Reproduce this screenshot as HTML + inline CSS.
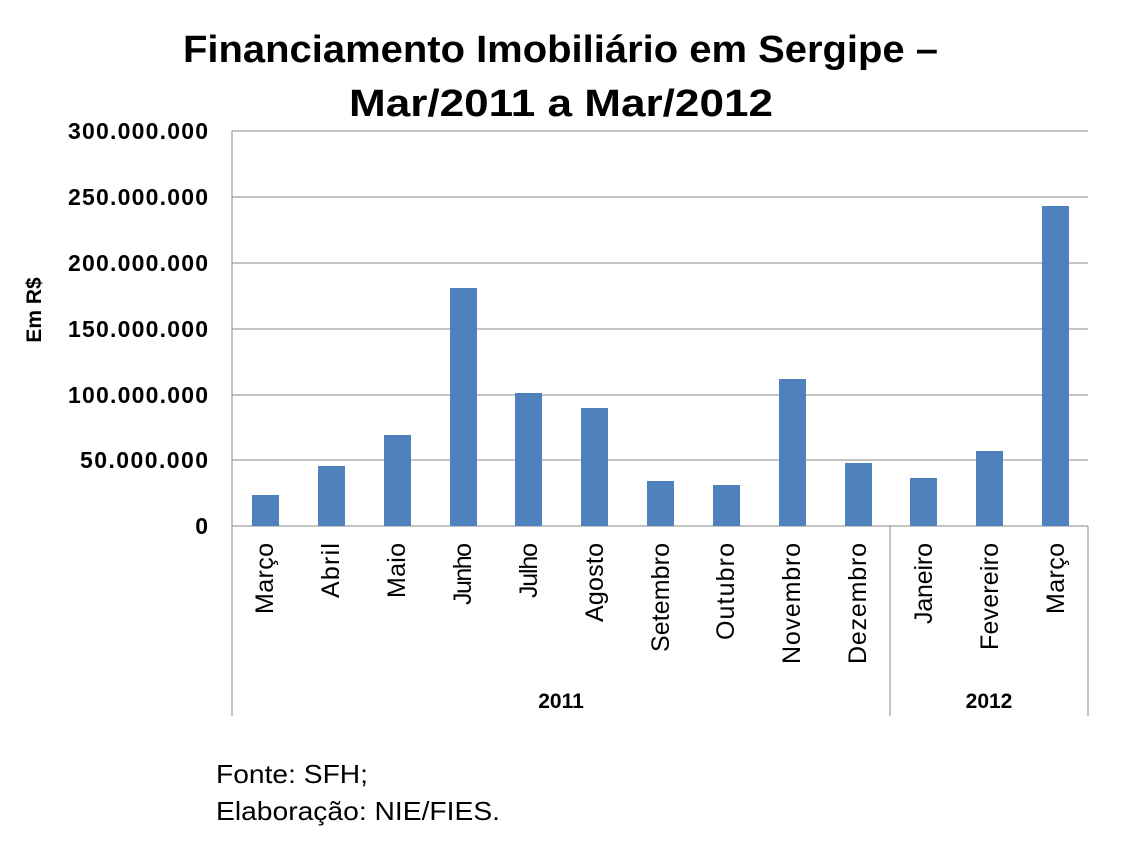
<!DOCTYPE html>
<html><head><style>body{margin:0;background:#fff}svg{display:block}</style></head><body>
<svg width="1122" height="852" xmlns="http://www.w3.org/2000/svg" font-family="Liberation Sans, sans-serif">
<text x="183" y="62" font-size="38" font-weight="bold" textLength="755" lengthAdjust="spacingAndGlyphs">Financiamento Imobiliário em Sergipe –</text>
<text x="349" y="116" font-size="38" font-weight="bold" textLength="424" lengthAdjust="spacingAndGlyphs">Mar/2011 a Mar/2012</text>
<g stroke="#888" stroke-width="1">
<line x1="232" y1="131" x2="1088" y2="131"/><line x1="232" y1="197" x2="1088" y2="197"/>
<line x1="232" y1="263" x2="1088" y2="263"/><line x1="232" y1="329" x2="1088" y2="329"/>
<line x1="232" y1="395" x2="1088" y2="395"/><line x1="232" y1="460" x2="1088" y2="460"/>
<line x1="232" y1="526" x2="1088" y2="526"/>
<line x1="232" y1="131" x2="232" y2="716"/><line x1="890" y1="526" x2="890" y2="716"/><line x1="1088" y1="526" x2="1088" y2="716"/>
</g>
<g font-size="23" font-weight="bold" text-anchor="end" lengthAdjust="spacingAndGlyphs">
<text x="208" y="139" textLength="140">300.000.000</text><text x="208" y="205" textLength="140">250.000.000</text>
<text x="208" y="271" textLength="140">200.000.000</text><text x="208" y="337" textLength="140">150.000.000</text>
<text x="208" y="403" textLength="140">100.000.000</text><text x="208" y="468" textLength="128">50.000.000</text>
<text x="208" y="534">0</text>
</g>
<text transform="translate(41,310) rotate(-90)" font-size="21" font-weight="bold" text-anchor="middle">Em R$</text>
<g fill="#4f81bd">
<rect x="252" y="495" width="27" height="31"/><rect x="318" y="466" width="27" height="60"/>
<rect x="384" y="435" width="27" height="91"/><rect x="450" y="288" width="27" height="238"/>
<rect x="515" y="393" width="27" height="133"/><rect x="581" y="408" width="27" height="118"/>
<rect x="647" y="481" width="27" height="45"/><rect x="713" y="485" width="27" height="41"/>
<rect x="779" y="379" width="27" height="147"/><rect x="845" y="463" width="27" height="63"/>
<rect x="910" y="478" width="27" height="48"/><rect x="976" y="451" width="27" height="75"/>
<rect x="1042" y="206" width="27" height="320"/>
</g>
<g font-size="25" lengthAdjust="spacingAndGlyphs">
<text transform="translate(273,614) rotate(-90)" textLength="71">Março</text>
<text transform="translate(339,598) rotate(-90)" textLength="55">Abril</text>
<text transform="translate(405,598) rotate(-90)" textLength="55">Maio</text>
<text transform="translate(471,605) rotate(-90)" textLength="62">Junho</text>
<text transform="translate(537,598) rotate(-90)" textLength="55">Julho</text>
<text transform="translate(603,622) rotate(-90)" textLength="79">Agosto</text>
<text transform="translate(669,652) rotate(-90)" textLength="109">Setembro</text>
<text transform="translate(734,640) rotate(-90)" textLength="97">Outubro</text>
<text transform="translate(800,664) rotate(-90)" textLength="121">Novembro</text>
<text transform="translate(866,664) rotate(-90)" textLength="121">Dezembro</text>
<text transform="translate(932,624) rotate(-90)" textLength="81">Janeiro</text>
<text transform="translate(998,650) rotate(-90)" textLength="107">Fevereiro</text>
<text transform="translate(1064,614) rotate(-90)" textLength="71">Março</text>
</g>
<g font-size="21" font-weight="bold" text-anchor="middle">
<text x="561" y="708">2011</text><text x="989" y="708">2012</text>
</g>
<text x="216" y="783" font-size="26" textLength="152" lengthAdjust="spacingAndGlyphs">Fonte: SFH;</text>
<text x="216" y="820" font-size="26" textLength="284" lengthAdjust="spacingAndGlyphs">Elaboração: NIE/FIES.</text>
</svg>
</body></html>
